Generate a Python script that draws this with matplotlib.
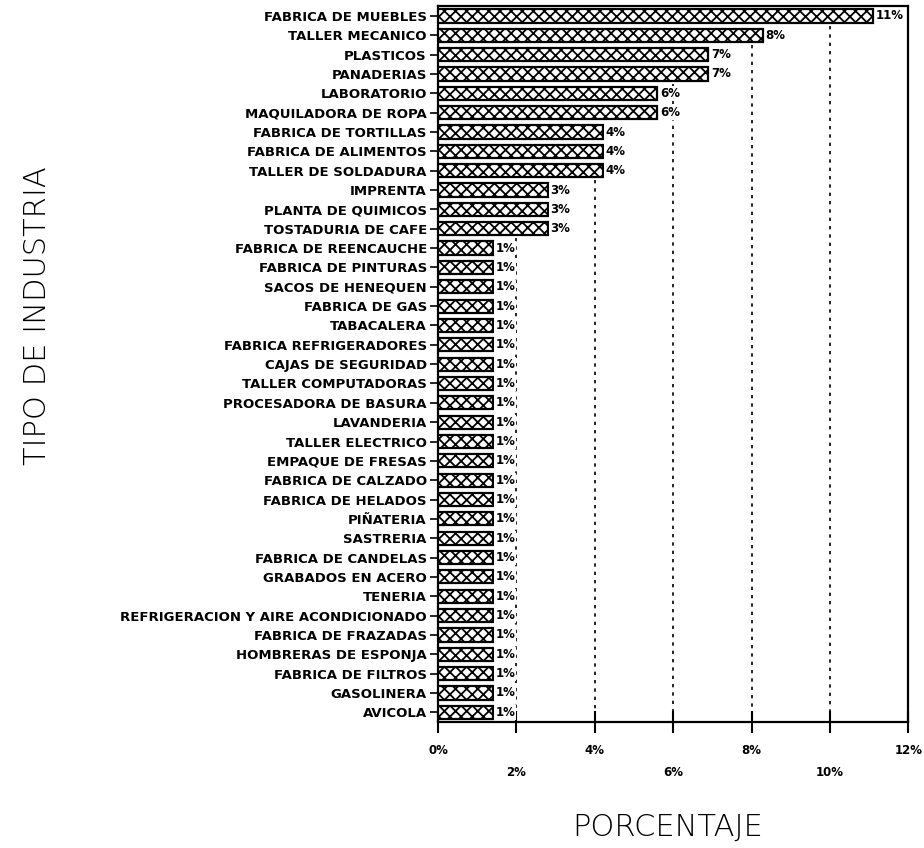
import matplotlib.pyplot as plt
import numpy as np

plt.rcParams['hatch.linewidth'] = 1.3

# industry types, top to bottom
categories = [
    'FABRICA DE MUEBLES', 'TALLER MECANICO', 'PLASTICOS', 'PANADERIAS',
    'LABORATORIO', 'MAQUILADORA DE ROPA', 'FABRICA DE TORTILLAS',
    'FABRICA DE ALIMENTOS', 'TALLER DE SOLDADURA', 'IMPRENTA',
    'PLANTA DE QUIMICOS', 'TOSTADURIA DE CAFE', 'FABRICA DE REENCAUCHE',
    'FABRICA DE PINTURAS', 'SACOS DE HENEQUEN', 'FABRICA DE GAS',
    'TABACALERA', 'FABRICA REFRIGERADORES', 'CAJAS DE SEGURIDAD',
    'TALLER COMPUTADORAS', 'PROCESADORA DE BASURA', 'LAVANDERIA',
    'TALLER ELECTRICO', 'EMPAQUE DE FRESAS', 'FABRICA DE CALZADO',
    'FABRICA DE HELADOS', 'PIÑATERIA', 'SASTRERIA', 'FABRICA DE CANDELAS',
    'GRABADOS EN ACERO', 'TENERIA', 'REFRIGERACION Y AIRE ACONDICIONADO',
    'FABRICA DE FRAZADAS', 'HOMBRERAS DE ESPONJA', 'FABRICA DE FILTROS',
    'GASOLINERA', 'AVICOLA',
]
# percentages
porcentaje = [11.1, 8.3, 6.9, 6.9, 5.6, 5.6, 4.2, 4.2, 4.2, 2.8, 2.8, 2.8] + [1.4] * 25

xticks_top = [0, 4, 8, 12]
xticks_low = [2, 6, 10]
grid_x = [2, 4, 6, 8, 10]

fig = plt.figure(figsize=(9.24, 8.48), dpi=100)
ax = fig.add_axes([0.474, 0.1486, 0.509, 0.844])

n = len(categories)
y = np.arange(n)
vals = np.array(porcentaje)
ax.barh(y, vals, height=0.68, color='white', edgecolor='black',
        linewidth=1.6, hatch='xxx', zorder=3)

for yi, v in zip(y, vals):
    ax.text(v + 0.06, yi, f'{v:.0f}%', va='center', ha='left',
            fontsize=8.5, fontweight='bold', zorder=4,
            bbox=dict(facecolor='white', edgecolor='none', pad=0.5))

# dashed guides only start below the last bar that crosses them
for g in grid_x:
    last = np.max(np.where(vals > g)[0])
    ax.plot([g, g], [last + 0.5, n - 0.5], color='black',
            linestyle=(0, (2, 3)), linewidth=1.2, zorder=1)

ax.set_xlim(0, 12)
ax.set_ylim(n - 0.5, -0.5)

ax.set_yticks(y)
ax.set_yticklabels(categories, fontsize=9.5, fontweight='bold')
ax.tick_params(axis='y', length=6, width=1.2, pad=2)

ax.set_xticks(xticks_top)
ax.set_xticklabels([f'{t}%' for t in xticks_top], fontsize=8.5, fontweight='bold')
ax.set_xticks(xticks_low, minor=True)
ax.set_xticklabels([f'{t}%' for t in xticks_low], minor=True, fontsize=8.5,
                   fontweight='bold')
ax.tick_params(axis='x', which='major', direction='inout', length=16, width=1.5, pad=8)
ax.tick_params(axis='x', which='minor', direction='inout', length=16, width=1.5, pad=24)

for s in ax.spines.values():
    s.set_linewidth(1.6)

fig.text(0.041, 0.628, 'TIPO DE INDUSTRIA', rotation=90, ha='center', va='center',
         fontsize=22, family='DejaVu Sans', fontweight='light')
fig.text(0.722, 0.025, 'PORCENTAJE', ha='center', va='center',
         fontsize=22, family='DejaVu Sans', fontweight='light')

fig.savefig('out.png', dpi=100)
